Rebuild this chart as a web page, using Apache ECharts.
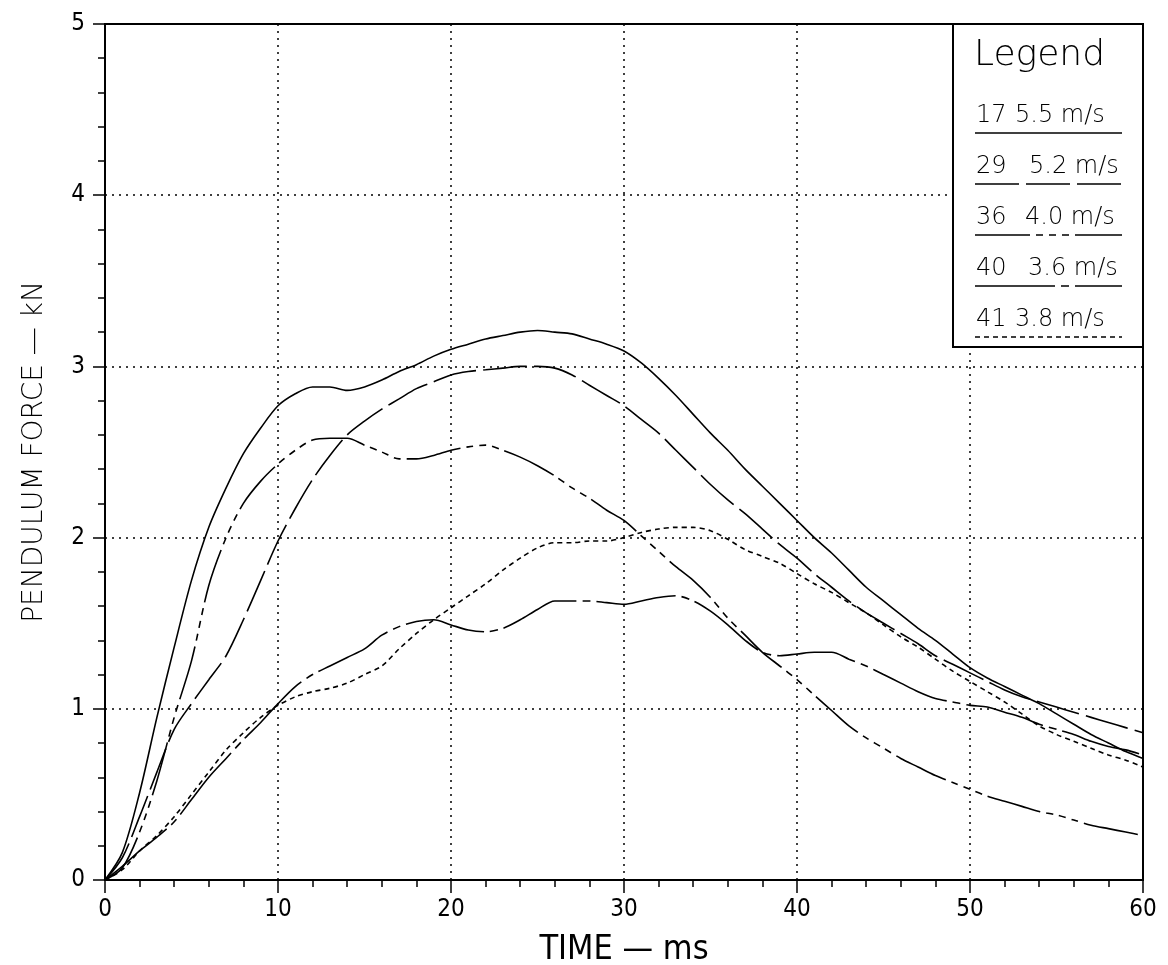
<!DOCTYPE html>
<html>
<head>
<meta charset="utf-8">
<script src="https://cdn.jsdelivr.net/npm/echarts@6/dist/echarts.min.js"></script>
<style>html,body{margin:0;padding:0;background:#fff;}#c{width:1168px;height:965px;}</style>
</head>
<body>
<div id="c"></div>
<script>
// ---- data ----
const time = Array.from({length: 61}, (_, i) => i); // ms, 0..60
const f17 = [0,0.16,0.51,0.95,1.36,1.75,2.06,2.29,2.49,2.64,2.77,2.84,2.88,2.88,2.86,2.88,2.92,2.97,3.01,3.06,3.1,3.13,3.16,3.18,3.2,3.21,3.2,3.19,3.16,3.13,3.09,3.02,2.93,2.83,2.72,2.61,2.51,2.4,2.3,2.2,2.1,2.0,1.91,1.81,1.71,1.63,1.55,1.47,1.4,1.32,1.24,1.18,1.13,1.08,1.03,0.97,0.91,0.85,0.8,0.75,0.71];
const f29 = [0,0.13,0.37,0.63,0.88,1.03,1.17,1.31,1.52,1.75,1.98,2.17,2.34,2.48,2.6,2.68,2.75,2.81,2.87,2.91,2.95,2.97,2.98,2.99,3.0,3.0,2.99,2.95,2.89,2.83,2.77,2.69,2.61,2.51,2.41,2.31,2.22,2.14,2.05,1.96,1.88,1.79,1.71,1.63,1.56,1.5,1.44,1.38,1.31,1.26,1.21,1.16,1.11,1.07,1.04,1.01,0.98,0.95,0.92,0.89,0.86];
const f36 = [0,0.07,0.28,0.58,0.95,1.28,1.72,2.0,2.2,2.33,2.43,2.51,2.57,2.58,2.58,2.54,2.5,2.46,2.46,2.48,2.51,2.53,2.54,2.51,2.47,2.42,2.36,2.29,2.23,2.16,2.1,2.01,1.92,1.83,1.75,1.65,1.53,1.43,1.33,1.25,1.17,1.08,0.99,0.9,0.83,0.77,0.71,0.66,0.61,0.57,0.53,0.49,0.46,0.43,0.4,0.38,0.35,0.32,0.3,0.28,0.26];
const f40 = [0,0.08,0.17,0.25,0.34,0.47,0.6,0.71,0.82,0.92,1.03,1.13,1.2,1.25,1.3,1.35,1.43,1.48,1.51,1.52,1.49,1.46,1.45,1.47,1.52,1.58,1.63,1.63,1.63,1.62,1.61,1.63,1.65,1.66,1.63,1.57,1.49,1.4,1.33,1.31,1.32,1.33,1.33,1.29,1.25,1.2,1.15,1.1,1.06,1.04,1.02,1.01,0.98,0.95,0.91,0.88,0.85,0.81,0.78,0.76,0.73];
const f41 = [0,0.06,0.17,0.26,0.37,0.5,0.63,0.76,0.86,0.95,1.02,1.07,1.1,1.12,1.15,1.2,1.25,1.35,1.44,1.52,1.59,1.66,1.73,1.81,1.88,1.94,1.97,1.97,1.98,1.98,2.0,2.03,2.05,2.06,2.06,2.04,1.99,1.93,1.89,1.85,1.79,1.73,1.68,1.62,1.56,1.49,1.42,1.36,1.29,1.22,1.16,1.1,1.04,0.97,0.9,0.85,0.81,0.77,0.73,0.7,0.66];
const testIds = ['17', '29', '36', '40', '41'];
const speeds = ['5.5 m/s', '5.2 m/s', '4.0 m/s', '3.6 m/s', '3.8 m/s'];
const xTitle = 'TIME \u2014 ms';
const yTitle = 'PENDULUM FORCE \u2014 kN';
const legendTitle = 'Legend';

// ---- styles ----
const dashes = [
  'solid',
  [44, 7],
  [55, 6, 7, 6, 7, 6, 7, 6],
  [80, 6, 8, 6],
  [5, 4]
];
const speedX = [1015, 1029, 1025, 1028, 1015];
const condFont = '"DejaVu Sans Condensed", "Liberation Sans", sans-serif';
const allValues = [f17, f29, f36, f40, f41];

const chart = echarts.init(document.getElementById('c'), null, {renderer: 'canvas'});

const series = allValues.map((vals, i) => ({
  name: testIds[i],
  type: 'line',
  data: time.map((t, k) => [t, vals[k]]),
  showSymbol: false,
  smooth: 0.3,
  lineStyle: {color: '#000', width: 1.6, type: dashes[i]},
  silent: true,
  z: 3
}));

// legend graphics
const g = [];
const lx0 = 953, ly0 = 24, lx1 = 1143, ly1 = 347;
g.push({type: 'rect', shape: {x: lx0, y: ly0, width: lx1 - lx0, height: ly1 - ly0},
  style: {fill: '#fff', stroke: '#000', lineWidth: 2}, z: 10});
g.push({type: 'text', x: 974, y: 38, style: {text: legendTitle, font: '200 36px "DejaVu Sans"', fill: '#000'}, z: 11});
testIds.forEach((id, i) => {
  const yl = 133 + i * 51;
  g.push({type: 'text', x: 976, y: yl - 29, style: {text: id, font: '200 24px "DejaVu Sans"', fill: '#000'}, z: 11});
  g.push({type: 'text', x: speedX[i], y: yl - 29, style: {text: speeds[i], font: '200 24px "DejaVu Sans"', fill: '#000'}, z: 11});
  g.push({type: 'line', shape: {x1: 975, y1: yl, x2: 1122, y2: yl},
    style: {stroke: '#000', lineWidth: 1.6, lineDash: dashes[i] === 'solid' ? null : dashes[i]}, z: 11});
});

chart.setOption({
  animation: false,
  backgroundColor: '#fff',
  grid: {left: 105, right: 25, top: 24, bottom: 85, outerBoundsMode: 'none', containLabel: false,
    show: true, borderColor: '#000', borderWidth: 2, backgroundColor: 'transparent'},
  xAxis: {
    type: 'value', min: 0, max: 60, interval: 10,
    name: xTitle, nameLocation: 'middle', nameGap: 53,
    nameTextStyle: {fontFamily: condFont, fontWeight: 200, fontSize: 34, color: '#000'},
    axisLine: {show: true, lineStyle: {color: '#000', width: 2}},
    axisTick: {show: true, inside: false, length: 13, lineStyle: {color: '#000', width: 1.5}},
    minorTick: {show: true, splitNumber: 5, length: 7, lineStyle: {color: '#000', width: 1.5}},
    axisLabel: {fontFamily: condFont, fontWeight: 200, fontSize: 24, color: '#000', margin: 18},
    splitLine: {show: true, showMinLine: false, showMaxLine: false, lineStyle: {color: '#000', width: 1.5, type: [2, 5]}}
  },
  yAxis: {
    type: 'value', min: 0, max: 5, interval: 1,
    name: yTitle, nameLocation: 'middle', nameGap: 56, nameRotate: 90,
    nameTextStyle: {fontFamily: '"DejaVu Sans"', fontWeight: 200, fontSize: 28, color: '#000'},
    axisLine: {show: true, lineStyle: {color: '#000', width: 2}},
    axisTick: {show: true, inside: false, length: 12, lineStyle: {color: '#000', width: 1.5}},
    minorTick: {show: true, splitNumber: 5, length: 7, lineStyle: {color: '#000', width: 1.5}},
    axisLabel: {fontFamily: condFont, fontWeight: 200, fontSize: 24, color: '#000', margin: 20},
    splitLine: {show: true, showMinLine: false, showMaxLine: false, lineStyle: {color: '#000', width: 1.5, type: [2, 5]}}
  },
  series: series,
  graphic: g
});
</script>
</body>
</html>
